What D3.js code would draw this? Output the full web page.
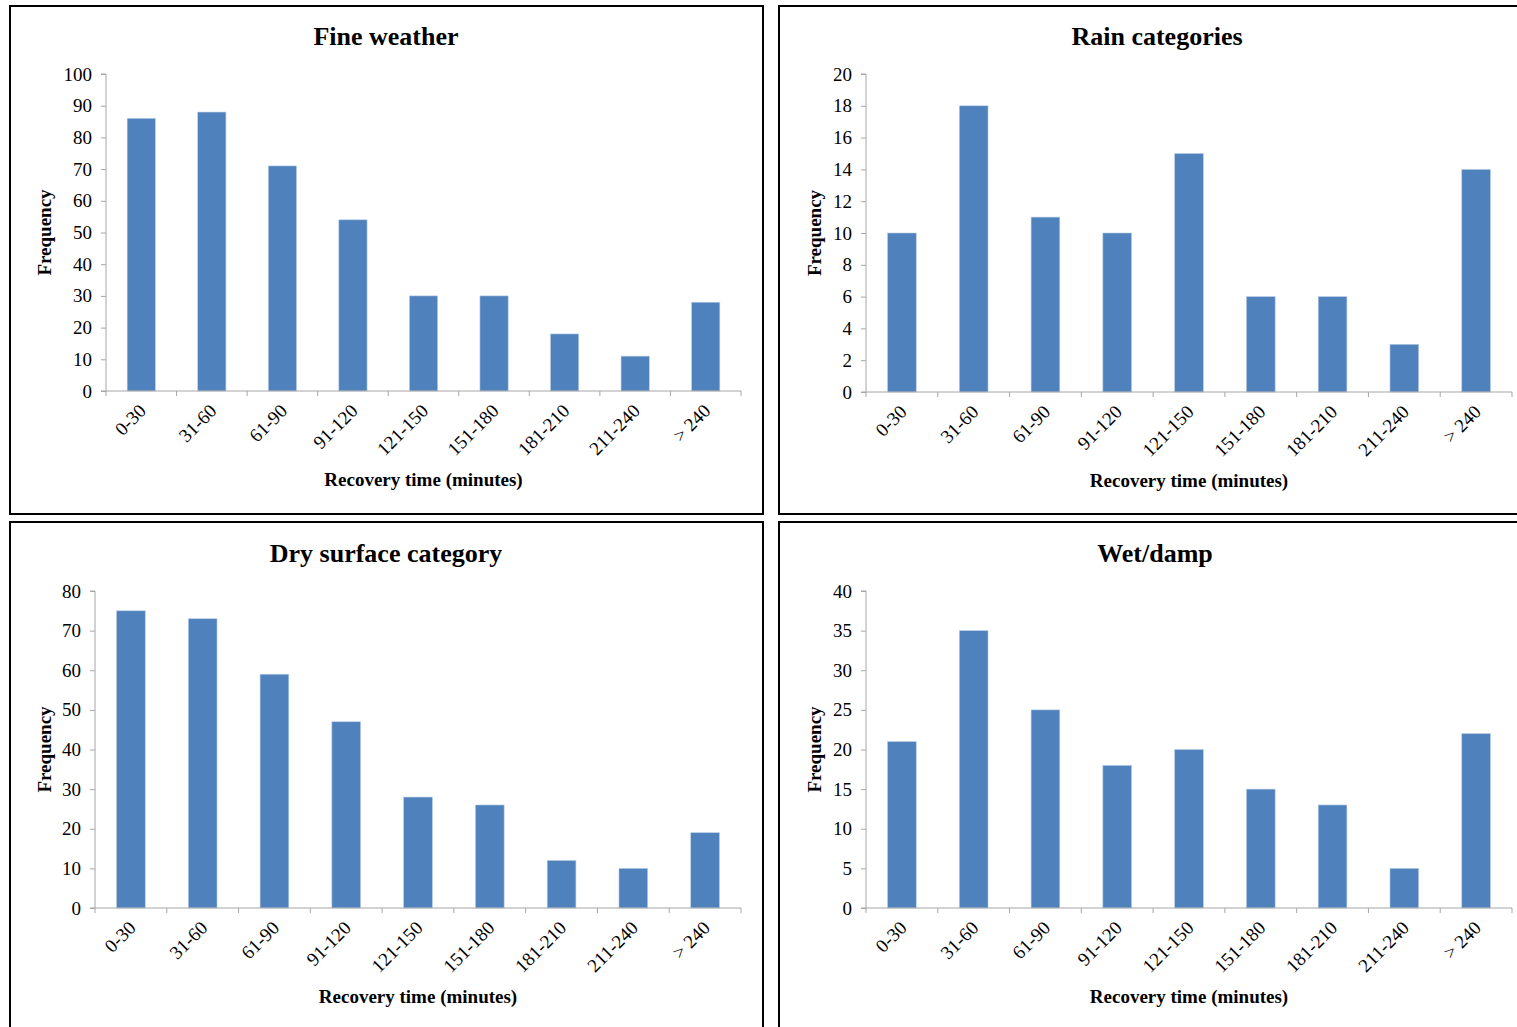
<!DOCTYPE html>
<html><head><meta charset="utf-8">
<script src="https://cdn.jsdelivr.net/npm/d3@7"></script>
<style>body{margin:0;background:#fff}svg{display:block}</style>
</head><body>
<script>
const categories = ["0-30","31-60","61-90","91-120","121-150","151-180","181-210","211-240","> 240"];
const fineWeather = [86, 88, 71, 54, 30, 30, 18, 11, 28];
const rainCategories = [10, 18, 11, 10, 15, 6, 6, 3, 14];
const drySurface = [75, 73, 59, 47, 28, 26, 12, 10, 19];
const wetDamp = [21, 35, 25, 18, 20, 15, 13, 5, 22];
const titles = ["Fine weather", "Rain categories", "Dry surface category", "Wet/damp"];
const yMax = [100, 20, 80, 40];
const yStep = [10, 2, 10, 5];

const W = 1517, H = 1027;
const svg = d3.select("body").append("svg").attr("width", W).attr("height", H);
const serif = "'Liberation Serif','Times New Roman',serif";

const panels = [
  {data: fineWeather, box:[10,6,753,508], plot:{x0:106,x1:741,y0:391,y1:74}, titleX:386, titleY:45, ytx:51},
  {data: rainCategories, box:[779,6,760,508], plot:{x0:866,x1:1512,y0:392,y1:74}, titleX:1157, titleY:45, ytx:821},
  {data: drySurface, box:[10,522,753,520], plot:{x0:95,x1:741,y0:908,y1:591}, titleX:386, titleY:562, ytx:51},
  {data: wetDamp, box:[779,522,760,520], plot:{x0:866,x1:1512,y0:908,y1:591}, titleX:1155, titleY:562, ytx:821}
];

panels.forEach((p, i) => {
  const g = svg.append("g");
  g.append("rect").attr("x", p.box[0]).attr("y", p.box[1]).attr("width", p.box[2]).attr("height", p.box[3])
    .attr("fill", "#fff").attr("stroke", "#000").attr("stroke-width", 2);
  const x = d3.scaleBand().domain(categories).range([p.plot.x0, p.plot.x1]).paddingInner(0.6).paddingOuter(0.3);
  const xb = d3.scaleBand().domain(categories).range([p.plot.x0, p.plot.x1]);
  const y = d3.scaleLinear().domain([0, yMax[i]]).range([p.plot.y0, p.plot.y1]);

  g.append("text").attr("x", p.titleX).attr("y", p.titleY).attr("text-anchor", "middle")
    .attr("font-family", serif).attr("font-weight", "bold").attr("font-size", 26).text(titles[i]);

  g.selectAll("rect.bar").data(p.data).enter().append("rect").attr("class","bar")
    .attr("x", (d, k) => x(categories[k])).attr("width", x.bandwidth())
    .attr("y", d => y(d)).attr("height", d => y(0) - y(d))
    .attr("fill", "#4f81bd").attr("stroke", "#b9cde5").attr("stroke-width", 0.6);

  const ticks = d3.range(0, yMax[i] + 0.001, yStep[i]);
  const ya = g.append("g").attr("transform", `translate(${p.plot.x0},0)`)
    .call(d3.axisLeft(y).tickValues(ticks).tickSize(5).tickPadding(9).tickFormat(d3.format("d")));
  ya.attr("font-family", serif).attr("font-size", 19);
  ya.select(".domain").attr("stroke", "#a6a6a6").attr("d", `M-5,${y(yMax[i])}H0V${y(0)}`);
  ya.selectAll(".tick line").attr("stroke", "#a6a6a6");
  ya.selectAll(".tick text").attr("font-family", serif).attr("font-size", 19).attr("fill", "#000");

  const xa = g.append("g").attr("transform", `translate(0,${p.plot.y0})`);
  xa.append("line").attr("x1", p.plot.x0 - 5).attr("x2", p.plot.x1).attr("y1", 0).attr("y2", 0).attr("stroke", "#a6a6a6");
  const bounds = categories.map(c => xb(c)).concat([p.plot.x1]);
  xa.selectAll("line.t").data(bounds).enter().append("line").attr("class","t")
    .attr("x1", d => d).attr("x2", d => d).attr("y1", 0).attr("y2", 5).attr("stroke", "#a6a6a6");
  xa.selectAll("text.lab").data(categories).enter().append("text").attr("class","lab")
    .attr("text-anchor", "end").attr("font-family", serif).attr("font-size", 19).attr("fill", "#000")
    .attr("transform", c => `translate(${xb(c) + xb.bandwidth()/2 + 6},${21}) rotate(-45)`)
    .text(c => c);

  g.append("text").attr("x", (p.plot.x0 + p.plot.x1) / 2).attr("y", p.plot.y0 + 95).attr("text-anchor", "middle")
    .attr("font-family", serif).attr("font-weight", "bold").attr("font-size", 19).text("Recovery time (minutes)");
  g.append("text").attr("transform", `translate(${p.ytx},${(p.plot.y0 + p.plot.y1) / 2}) rotate(-90)`)
    .attr("text-anchor", "middle").attr("font-family", serif).attr("font-weight", "bold").attr("font-size", 19).text("Frequency");
});
</script>
</body></html>
